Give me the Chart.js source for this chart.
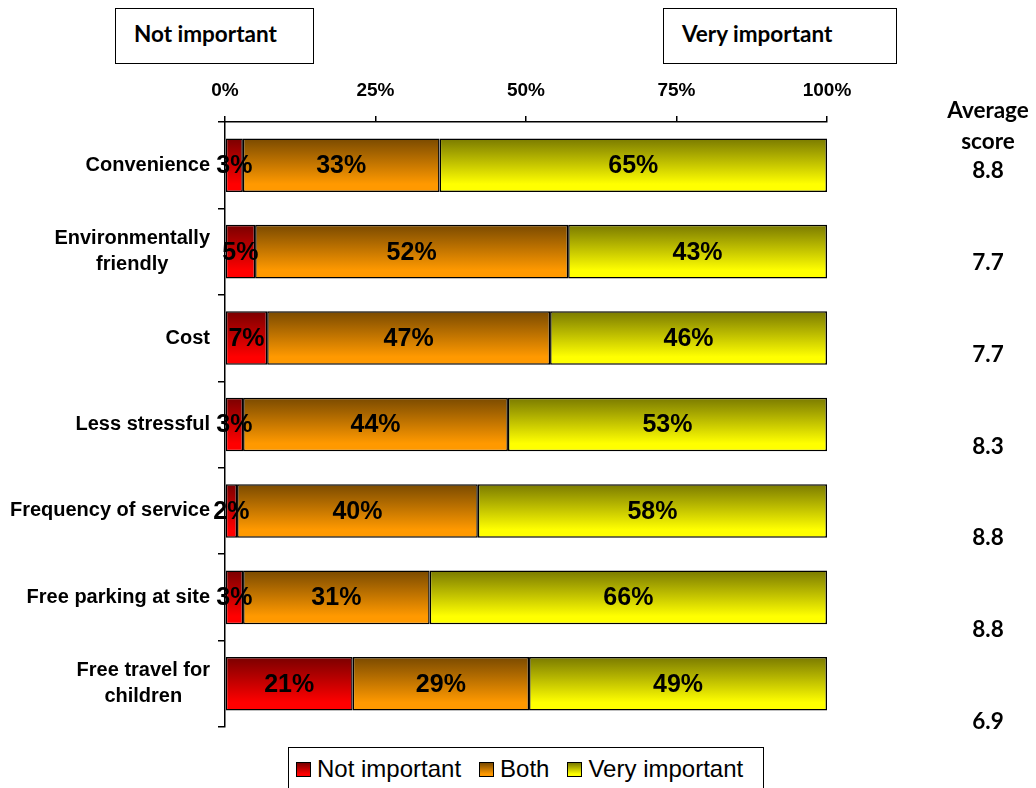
<!DOCTYPE html>
<html>
<head>
<meta charset="utf-8">
<script src="https://cdn.jsdelivr.net/npm/chart.js@4.4.1/dist/chart.umd.min.js"></script>
<style>
  html, body { margin: 0; padding: 0; background: #fff; }
  #wrap { position: relative; width: 1036px; height: 788px; overflow: hidden; }
  .tag {
    position: absolute; top: 8px; height: 56px; box-sizing: border-box;
    border: 1.5px solid #000; background: #fff;
    font: bold 22.5px Lato, "Open Sans", sans-serif; line-height: 50px;
    padding-left: 18px;
  }
  #legend {
    position: absolute; left: 288px; top: 747px; width: 476px; height: 50px;
    box-sizing: border-box; border: 1.5px solid #000; background: #fff;
    font: 24px "Liberation Sans", Arial, sans-serif;
    display: flex; align-items: flex-start; padding: 7px 0 0 7px;
    white-space: nowrap;
  }
  #legend .item { display: flex; align-items: center; margin-right: 18px; }
  #legend .sw {
    display: inline-block; width: 13px; height: 13px; border: 1.5px solid #000;
    margin-right: 6px;
  }
</style>
</head>
<body>
<div id="wrap">
  <canvas id="chart" width="1036" height="788"></canvas>
  <div class="tag" style="left:115px;width:199px;">Not important</div>
  <div class="tag" style="left:663px;width:234px;">Very important</div>
  <div id="legend"></div>
</div>
<script>
const categories = [
  "Convenience",
  ["Environmentally", "friendly"],
  "Cost",
  "Less stressful",
  "Frequency of service",
  "Free parking at site",
  ["Free travel for", "children"],
];
const notImportant = [3, 5, 7, 3, 2, 3, 21];
const both = [33, 52, 47, 44, 40, 31, 29];
const veryImportant = [65, 43, 46, 53, 58, 66, 49];
const averageScore = [8.8, 7.7, 7.7, 8.3, 8.8, 8.8, 6.9];
const xTicks = [0, 25, 50, 75, 100];

// dark top -> bright bottom for each series
const shades = {
  "Not important": ["#7a0000", "#ff0000"],
  "Both": ["#7a4a00", "#ff9900"],
  "Very important": ["#7a7a00", "#ffff00"],
};
const BAR_PCT = 0.62;

const totals = categories.map((c, i) => notImportant[i] + both[i] + veryImportant[i]);
const share = (arr) => arr.map((v, i) => (v / totals[i]) * 100);

function barGradient(ctx, name) {
  const chart = ctx.chart;
  const y = chart.scales.y;
  const [dark, bright] = shades[name];
  if (!y || !chart.chartArea) return bright;
  const c = y.getPixelForValue(ctx.dataIndex);
  const half = (y.height / categories.length) * BAR_PCT / 2;
  const g = chart.ctx.createLinearGradient(0, c - half, 0, c + half);
  g.addColorStop(0, dark);
  g.addColorStop(0.85, bright);
  g.addColorStop(1, bright);
  return g;
}

function makeSet(name, values) {
  return {
    label: name,
    data: share(values),
    raw: values,
    backgroundColor: (ctx) => barGradient(ctx, name),
    borderColor: "#000",
    borderWidth: 1.5,
    borderSkipped: false,
    barPercentage: BAR_PCT,
    categoryPercentage: 1,
  };
}

// percentage text in the middle of every segment
const segmentLabels = {
  id: "segmentLabels",
  afterDatasetsDraw(chart) {
    const ctx = chart.ctx;
    ctx.save();
    ctx.font = "bold 25px 'Liberation Sans', Arial, sans-serif";
    ctx.fillStyle = "#000";
    ctx.textAlign = "center";
    ctx.textBaseline = "middle";
    chart.data.datasets.forEach((ds, di) => {
      chart.getDatasetMeta(di).data.forEach((el, i) => {
        ctx.fillText(ds.raw[i] + "%", (el.x + el.base) / 2, el.y + 1);
      });
    });
    ctx.restore();
  },
};

// category names: block right-aligned to the axis, lines centred inside the block
const categoryLabels = {
  id: "categoryLabels",
  afterDraw(chart) {
    const ctx = chart.ctx;
    const y = chart.scales.y;
    const right = y.right - 15;
    const lineH = 26;
    ctx.save();
    ctx.font = "bold 20px 'Liberation Sans', Arial, sans-serif";
    ctx.fillStyle = "#000";
    ctx.textAlign = "center";
    ctx.textBaseline = "middle";
    categories.forEach((cat, i) => {
      const lines = Array.isArray(cat) ? cat : [cat];
      const w = Math.max(...lines.map((l) => ctx.measureText(l).width));
      const cx = right - w / 2;
      const top = y.getPixelForValue(i) - ((lines.length - 1) * lineH) / 2;
      lines.forEach((l, k) => ctx.fillText(l, cx, top + k * lineH));
    });
    ctx.restore();
  },
};

// average score column on the right
const scoreColumn = {
  id: "scoreColumn",
  afterDraw(chart) {
    const ctx = chart.ctx;
    const cx = 988;
    ctx.save();
    ctx.font = "bold 22.5px Lato, 'Open Sans', sans-serif";
    ctx.fillStyle = "#000";
    ctx.textAlign = "center";
    ctx.textBaseline = "middle";
    ctx.fillText("Average", cx, 111);
    ctx.fillText("score", cx, 142);
    averageScore.forEach((s, i) => {
      ctx.fillText(s.toFixed(1), cx, 171 + i * 91.8);
    });
    ctx.restore();
  },
};

new Chart(document.getElementById("chart"), {
  type: "bar",
  data: {
    labels: categories,
    datasets: [
      makeSet("Not important", notImportant),
      makeSet("Both", both),
      makeSet("Very important", veryImportant),
    ],
  },
  options: {
    indexAxis: "y",
    responsive: false,
    animation: false,
    layout: { padding: { top: 70, right: 209, bottom: 61, left: 0 } },
    scales: {
      x: {
        position: "top",
        stacked: true,
        min: 0,
        max: 100,
        afterBuildTicks: (axis) => {
          axis.ticks = xTicks.map((v) => ({ value: v }));
        },
        afterFit: (axis) => {
          axis.height = 52;
        },
        ticks: {
          padding: 14,
          color: "#000",
          font: { family: "'Liberation Sans', Arial, sans-serif", size: 19, weight: "bold" },
          callback: (v) => v + "%",
        },
        grid: { drawOnChartArea: false, color: "#000", tickLength: 6, lineWidth: 1.5 },
        border: { color: "#000", width: 1.5 },
      },
      y: {
        stacked: true,
        afterFit: (axis) => {
          axis.width = 225;
        },
        ticks: { display: false },
        grid: { drawOnChartArea: false, color: "#000", tickLength: 7, lineWidth: 1.5, offset: true },
        border: { color: "#000", width: 1.5 },
      },
    },
    plugins: {
      legend: { display: false },
      tooltip: { enabled: false },
    },
  },
  plugins: [segmentLabels, categoryLabels, scoreColumn],
});

// legend with gradient swatches
const legend = document.getElementById("legend");
Object.keys(shades).forEach((name) => {
  const [dark, bright] = shades[name];
  const item = document.createElement("span");
  item.className = "item";
  item.innerHTML =
    '<span class="sw" style="background:linear-gradient(' + dark + "," + bright + ' 85%)"></span>' + name;
  legend.appendChild(item);
});
</script>
</body>
</html>
